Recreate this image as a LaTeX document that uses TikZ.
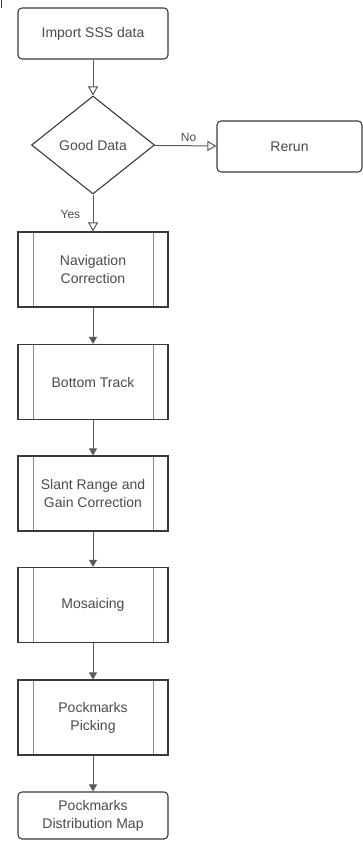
\documentclass[tikz,border=0pt]{standalone}
\usepackage{fontspec}
\setmainfont{Liberation Sans}
\usetikzlibrary{shapes.geometric,arrows.meta}
\definecolor{edge}{HTML}{3A3A3A}
\definecolor{wire}{HTML}{5A5A5A}
\definecolor{ink}{HTML}{4A4A4A}
\tikzset{
  every node/.style={font=\fontsize{14}{18}\selectfont, text=ink},
  roundbox/.style={draw=edge, line width=1.1pt, rounded corners=4pt, minimum width=150pt, align=center, inner sep=0pt},
  procbox/.style={draw=edge, line width=1.2pt, minimum width=150pt, minimum height=75pt, align=center, inner sep=0pt,
    path picture={
      \draw[wire!70, line width=0.9pt]
        ([xshift=15pt]path picture bounding box.north west) -- ([xshift=15pt]path picture bounding box.south west)
        ([xshift=-15pt]path picture bounding box.north east) -- ([xshift=-15pt]path picture bounding box.south east);
    }},
  decision/.style={draw=edge, line width=1.1pt, diamond, aspect=1.25, minimum width=123pt, minimum height=98pt, inner sep=0pt},
  openflow/.style={draw=wire, line width=1pt, -{Triangle[open, length=9pt, width=10pt, fill=white]}},
  flow/.style={draw=wire, line width=1pt, -{Triangle[length=7pt, width=8pt]}},
  tag/.style={font=\fontsize{12}{14}\selectfont, text=ink}
}
\begin{document}
\begin{tikzpicture}[x=1pt, y=-1pt]
\useasboundingbox (0,0) rectangle (363,841);
% small mark at the upper left corner
\coordinate (m0) at (1.5,0);
\coordinate (m1) at (1.5,8);
\draw[line width=1.2pt, edge] (m0) -- (m1);

\node[roundbox, minimum height=51pt] (imp) at (93,33.5) {Import SSS data};
\node[decision] (good) at (93,145) {Good Data};
\node[roundbox, minimum width=145pt, minimum height=51pt] (rerun) at (289.5,146.5) {Rerun};
\node[procbox] (nav) at (93,269.5) {Navigation\\Correction};
\node[procbox] (btm) at (93,382) {Bottom Track};
\node[procbox] (slant) at (93,493.5) {Slant Range and\\Gain Correction};
\node[procbox] (mos) at (93,605) {Mosaicing};
\node[procbox] (pick) at (93,717.5) {Pockmarks\\Picking};
\node[roundbox, minimum height=47pt] (map) at (93,815.5) {Pockmarks\\Distribution Map};

\draw[openflow] (imp) -- (good);
\draw[openflow] (good) -- node[tag, above, pos=0.55] {No} (rerun);
\draw[openflow] (good) -- node[tag, left, pos=0.55, xshift=-9pt] {Yes} (nav);
\draw[flow] (nav) -- (btm);
\draw[flow] (btm) -- (slant);
\draw[flow] (slant) -- (mos);
\draw[flow] (mos) -- (pick);
\draw[flow] (pick) -- (map);
\end{tikzpicture}
\end{document}
